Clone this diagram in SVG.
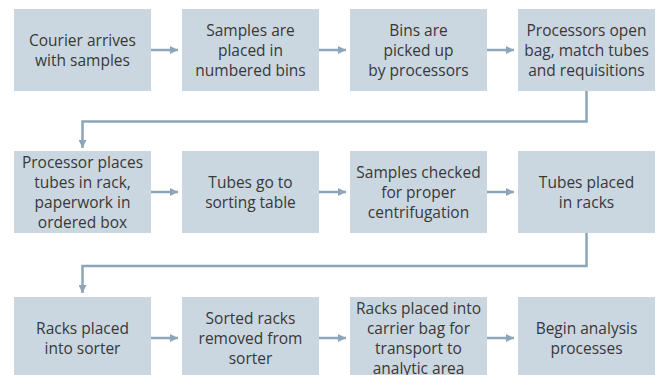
<svg xmlns="http://www.w3.org/2000/svg" width="660" height="375" viewBox="0 0 660 375">
<style>
.box{fill:#cbd7e0;}
.t{font-family:"Open Sans","Noto Sans","Liberation Sans",sans-serif;font-size:15.5px;fill:#383838;text-anchor:middle;}
.c{fill:none;stroke:#8ca5b8;stroke-width:2.5;}
</style>
<defs>
<marker id="ah" viewBox="0 0 8 8" refX="8" refY="4" markerWidth="8" markerHeight="8" markerUnits="userSpaceOnUse" orient="auto">
<path d="M0,0 L8,4 L0,8 z" fill="#8ca5b8"/>
</marker>
</defs>
<rect width="660" height="375" fill="#ffffff"/>
<g id="connectors">
<path class="c" d="M151,50 H178" marker-end="url(#ah)"/>
<path class="c" d="M319,50 H346" marker-end="url(#ah)"/>
<path class="c" d="M487,50 H514" marker-end="url(#ah)"/>
<path class="c" d="M586.5,91 V121.5 H82.5 V148" marker-end="url(#ah)"/>
<path class="c" d="M151,192 H178" marker-end="url(#ah)"/>
<path class="c" d="M319,192 H346" marker-end="url(#ah)"/>
<path class="c" d="M487,192 H514" marker-end="url(#ah)"/>
<path class="c" d="M586.5,233 V266 H82.5 V293" marker-end="url(#ah)"/>
<path class="c" d="M151,338 H178" marker-end="url(#ah)"/>
<path class="c" d="M319,338 H346" marker-end="url(#ah)"/>
<path class="c" d="M487,338 H514" marker-end="url(#ah)"/>
</g>
<g id="n1"><rect class="box" x="14" y="9" width="137" height="82"/>
<text class="t" x="82.5" y="46">Courier arrives</text><text class="t" x="82.5" y="66">with samples</text></g>
<g id="n2"><rect class="box" x="182" y="9" width="137" height="82"/>
<text class="t" x="250.5" y="36">Samples are</text><text class="t" x="250.5" y="56">placed in</text><text class="t" x="250.5" y="76">numbered bins</text></g>
<g id="n3"><rect class="box" x="350" y="9" width="137" height="82"/>
<text class="t" x="418.5" y="36">Bins are</text><text class="t" x="418.5" y="56">picked up</text><text class="t" x="418.5" y="76">by processors</text></g>
<g id="n4"><rect class="box" x="518" y="9" width="137" height="82"/>
<text class="t" x="586.5" y="36">Processors open</text><text class="t" x="586.5" y="56">bag, match tubes</text><text class="t" x="586.5" y="76">and requisitions</text></g>
<g id="n5"><rect class="box" x="14" y="151" width="137" height="82"/>
<text class="t" x="82.5" y="168">Processor places</text><text class="t" x="82.5" y="188">tubes in rack,</text><text class="t" x="82.5" y="208">paperwork in</text><text class="t" x="82.5" y="228">ordered box</text></g>
<g id="n6"><rect class="box" x="182" y="151" width="137" height="82"/>
<text class="t" x="250.5" y="188">Tubes go to</text><text class="t" x="250.5" y="208">sorting table</text></g>
<g id="n7"><rect class="box" x="350" y="151" width="137" height="82"/>
<text class="t" x="418.5" y="178">Samples checked</text><text class="t" x="418.5" y="198">for proper</text><text class="t" x="418.5" y="218">centrifugation</text></g>
<g id="n8"><rect class="box" x="518" y="151" width="137" height="82"/>
<text class="t" x="586.5" y="188">Tubes placed</text><text class="t" x="586.5" y="208">in racks</text></g>
<g id="n9"><rect class="box" x="14" y="297" width="137" height="82"/>
<text class="t" x="82.5" y="334">Racks placed</text><text class="t" x="82.5" y="354">into sorter</text></g>
<g id="n10"><rect class="box" x="182" y="297" width="137" height="82"/>
<text class="t" x="250.5" y="324">Sorted racks</text><text class="t" x="250.5" y="344">removed from</text><text class="t" x="250.5" y="364">sorter</text></g>
<g id="n11"><rect class="box" x="350" y="297" width="137" height="82"/>
<text class="t" x="418.5" y="314">Racks placed into</text><text class="t" x="418.5" y="334">carrier bag for</text><text class="t" x="418.5" y="354">transport to</text><text class="t" x="418.5" y="374">analytic area</text></g>
<g id="n12"><rect class="box" x="518" y="297" width="137" height="82"/>
<text class="t" x="586.5" y="334">Begin analysis</text><text class="t" x="586.5" y="354">processes</text></g>
</svg>
